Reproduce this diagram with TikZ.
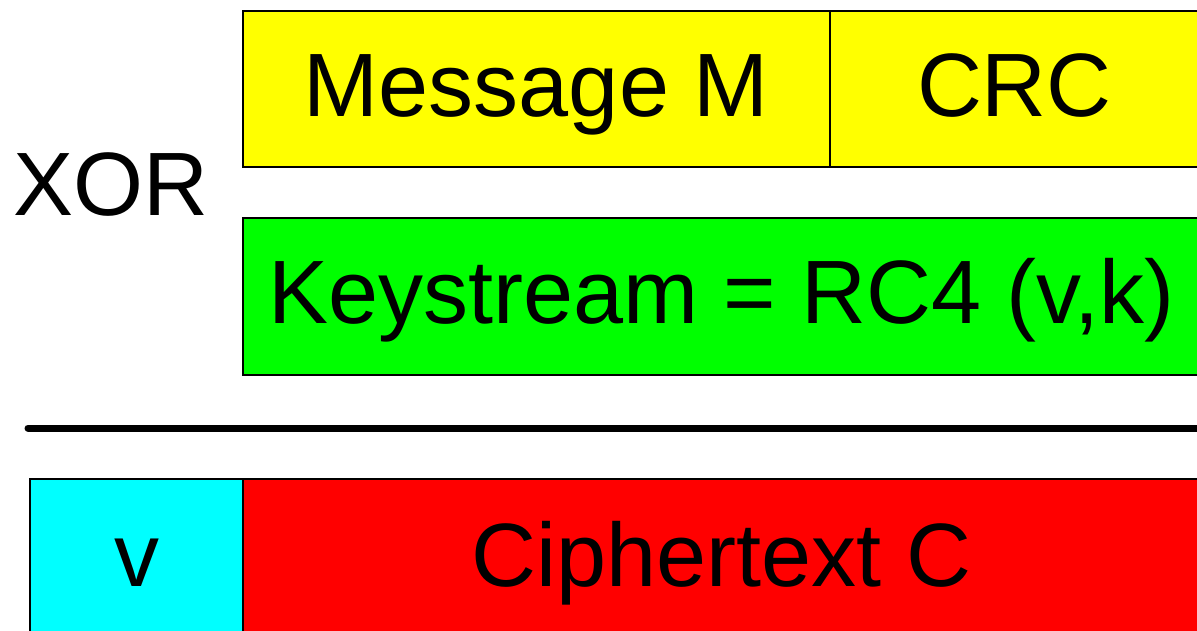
\documentclass[tikz,border=0pt]{standalone}
\usepackage{fontspec}
\setmainfont{Liberation Sans}
\definecolor{msgyellow}{RGB}{255,255,0}
\definecolor{keygreen}{RGB}{0,255,0}
\definecolor{ivcyan}{RGB}{0,255,255}
\definecolor{cipherred}{RGB}{255,0,0}
\tikzset{
  field/.style={draw=black,line width=1.5pt,inner sep=0pt,text height=66pt,text depth=12pt,
    font=\fontsize{90}{90}\selectfont},
}
\begin{document}
\begin{tikzpicture}[x=1pt,y=-1pt]
   \useasboundingbox (0,0) rectangle (1197,630);
   \clip (0,0) rectangle (1197,630);
   \node[field,fill=msgyellow,minimum width=587pt,minimum height=156pt] (msg) at (536.5,89) {Message M};
   \node[field,fill=msgyellow,minimum width=369pt,minimum height=156pt] (crc) at (1014.5,89) {CRC};
   \node (xor) at (111,185) {\fontsize{90}{90}\selectfont XOR};
   \node[field,fill=keygreen,minimum width=957pt,minimum height=157pt] (key) at (721.5,296.5) {Keystream = RC4 (v,k)};
   \coordinate (rulel) at (28,428);
   \coordinate (ruler) at (1230,428);
   \draw[black,line width=7pt,line cap=round] (rulel)--(ruler);
   \node[field,fill=ivcyan,minimum width=213pt,minimum height=160pt] (iv) at (136.5,559) {v};
   \node[field,fill=cipherred,minimum width=957pt,minimum height=160pt] (cipher) at (721.5,559) {Ciphertext C};
\end{tikzpicture}
\end{document}
